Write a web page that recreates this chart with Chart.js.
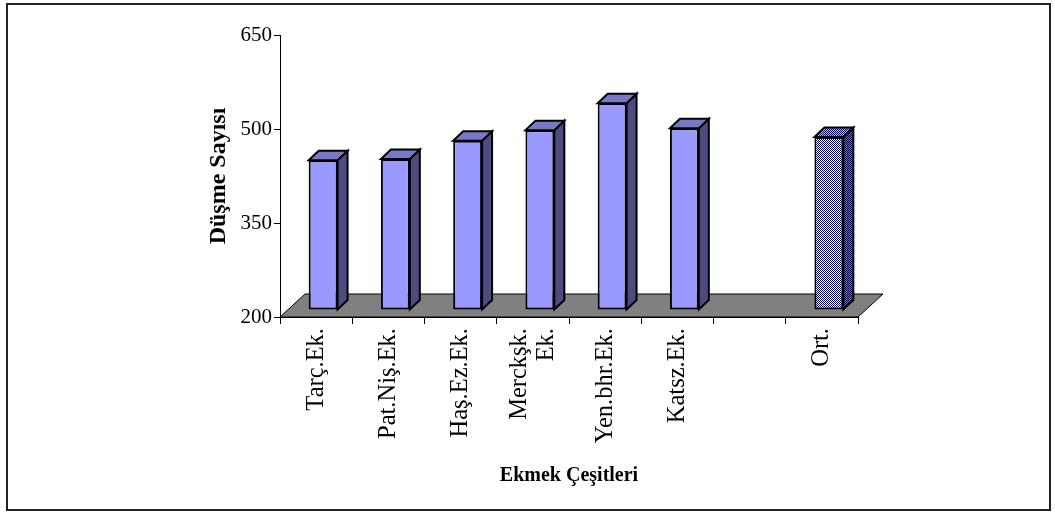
<!DOCTYPE html>
<html>
<head>
<meta charset="utf-8">
<script src="https://cdn.jsdelivr.net/npm/chart.js"></script>
<style>
  html, body { margin: 0; padding: 0; background: #fff; }
  #wrap { position: absolute; left: 0; top: 0; width: 1055px; height: 514px; }
  #frame {
    position: absolute; left: 6px; top: 3px; width: 1045px; height: 508px;
    box-sizing: border-box; border: 2px solid #222; pointer-events: none;
  }
  canvas { position: absolute; left: 0; top: 0; }
</style>
</head>
<body>
<div id="wrap">
  <canvas id="chart" width="1055" height="514"></canvas>
  <div id="frame"></div>
</div>
<script>
const categories = ["Tarç.Ek.", "Pat.Niş.Ek.", "Haş.Ez.Ek.", ["Merckşk.", "Ek."], "Yen.bhr.Ek.", "Katsz.Ek.", "", "Ort."];
const dusmeSayisi = [439, 441, 470, 487, 530, 490, null, 476];
const yTicks = [200, 350, 500, 650];

const SERIF = '"Liberation Serif", "Times New Roman", serif';
const FLOOR_DX = 25, FLOOR_DY = 23; // depth of the grey floor
const SHIFT = 7;                   // bars stand this far back on the floor
const BAR_DX = 10, BAR_DY = 9.5;   // depth of each column

function checker(c1, c2) {
  const p = document.createElement("canvas");
  p.width = 2; p.height = 2;
  const g = p.getContext("2d");
  g.fillStyle = c2; g.fillRect(0, 0, 2, 2);
  g.fillStyle = c1; g.fillRect(0, 0, 1, 1); g.fillRect(1, 1, 1, 1);
  return g.createPattern(p, "repeat");
}

const avgFront = checker("#000080", "#ffffff");
const avgTop = checker("#000080", "#b8b8e0");
const avgSide = checker("#000080", "#707080");

const fronts = dusmeSayisi.map((v, i) => (i === 7 ? avgFront : "#9999ff"));
const tops = dusmeSayisi.map((v, i) => (i === 7 ? avgTop : "#7878c8"));
const sides = dusmeSayisi.map((v, i) => (i === 7 ? avgSide : "#4c4c80"));

function poly(ctx, pts, fill) {
  ctx.beginPath();
  ctx.moveTo(pts[0][0], pts[0][1]);
  for (let i = 1; i < pts.length; i++) ctx.lineTo(pts[i][0], pts[i][1]);
  ctx.closePath();
  ctx.fillStyle = fill;
  ctx.fill();
  ctx.stroke();
}

const bar3d = {
  id: "bar3d",
  beforeDraw(chart) {
    // centre two-line category labels on their tick
    chart.scales.x.getLabelItems(chart.chartArea).forEach((item) => {
      if (Array.isArray(item.label) && !item._centred) {
        item.options.translation[0] -= (item.label.length - 1) * item.font.lineHeight / 2;
        item._centred = true;
      }
    });
  },
  beforeDatasetsDraw(chart) {
    const { ctx, chartArea } = chart;
    const y0 = chart.scales.y.getPixelForValue(200);
    ctx.save();
    ctx.strokeStyle = "#000";
    ctx.lineWidth = 1;
    poly(ctx, [
      [chartArea.left, y0],
      [chartArea.right, y0],
      [chartArea.right + FLOOR_DX, y0 - FLOOR_DY],
      [chartArea.left + FLOOR_DX, y0 - FLOOR_DY],
    ], "#808080");
    ctx.restore();
    ctx.save();
    ctx.translate(SHIFT, -SHIFT);
  },
  afterDatasetsDraw(chart) {
    const { ctx } = chart;
    ctx.strokeStyle = "#000";
    ctx.lineWidth = 2;
    ctx.lineJoin = "miter";
    chart.getDatasetMeta(0).data.forEach((bar, i) => {
      if (dusmeSayisi[i] == null) return;
      const { x, y, base, width } = bar.getProps(["x", "y", "base", "width"], true);
      const l = x - width / 2, r = x + width / 2;
      poly(ctx, [[r, y], [r + BAR_DX, y - BAR_DY], [r + BAR_DX, base - BAR_DY], [r, base]], sides[i]);
      poly(ctx, [[l, y], [r, y], [r + BAR_DX, y - BAR_DY], [l + BAR_DX, y - BAR_DY]], tops[i]);
    });
    ctx.restore();
  },
};

new Chart(document.getElementById("chart"), {
  type: "bar",
  data: {
    labels: categories,
    datasets: [{
      data: dusmeSayisi,
      base: 200,
      backgroundColor: fronts,
      borderColor: "#000",
      borderWidth: 2,
      borderSkipped: false,
      barPercentage: 0.4,
      categoryPercentage: 1.0,
      clip: false,
    }],
  },
  options: {
    responsive: false,
    animation: false,
    events: [],
    layout: { padding: { left: 196, top: 35, right: 197, bottom: 12 } },
    plugins: { legend: { display: false }, tooltip: { enabled: false } },
    scales: {
      x: {
        grid: { drawOnChartArea: false, drawTicks: true, tickLength: 7, color: "#000", offset: true },
        border: { color: "#000", width: 1 },
        ticks: {
          color: "#000", autoSkip: false, minRotation: 90, maxRotation: 90, padding: 4,
          font: { family: SERIF, size: 24.5, lineHeight: 1.1 },
        },
        title: {
          display: true, text: "Ekmek Çeşitleri", color: "#000",
          font: { family: SERIF, size: 20, weight: "bold" },
          padding: { top: 0, bottom: 14 },
        },
        afterFit(s) { s.height = 185; },
      },
      y: {
        min: 200,
        max: 650,
        afterBuildTicks(s) { s.ticks = yTicks.map((v) => ({ value: v })); },
        grid: { drawOnChartArea: false, drawTicks: true, tickLength: 6, color: "#000" },
        border: { color: "#000", width: 1 },
        ticks: { color: "#000", padding: 2, font: { family: SERIF, size: 21 } },
        title: {
          display: true, text: "Düşme Sayısı", color: "#000",
          font: { family: SERIF, size: 24, weight: "bold" },
          padding: { top: 8, bottom: 0 },
        },
        afterFit(s) { s.width = 84; },
      },
    },
  },
  plugins: [bar3d],
});
</script>
</body>
</html>
